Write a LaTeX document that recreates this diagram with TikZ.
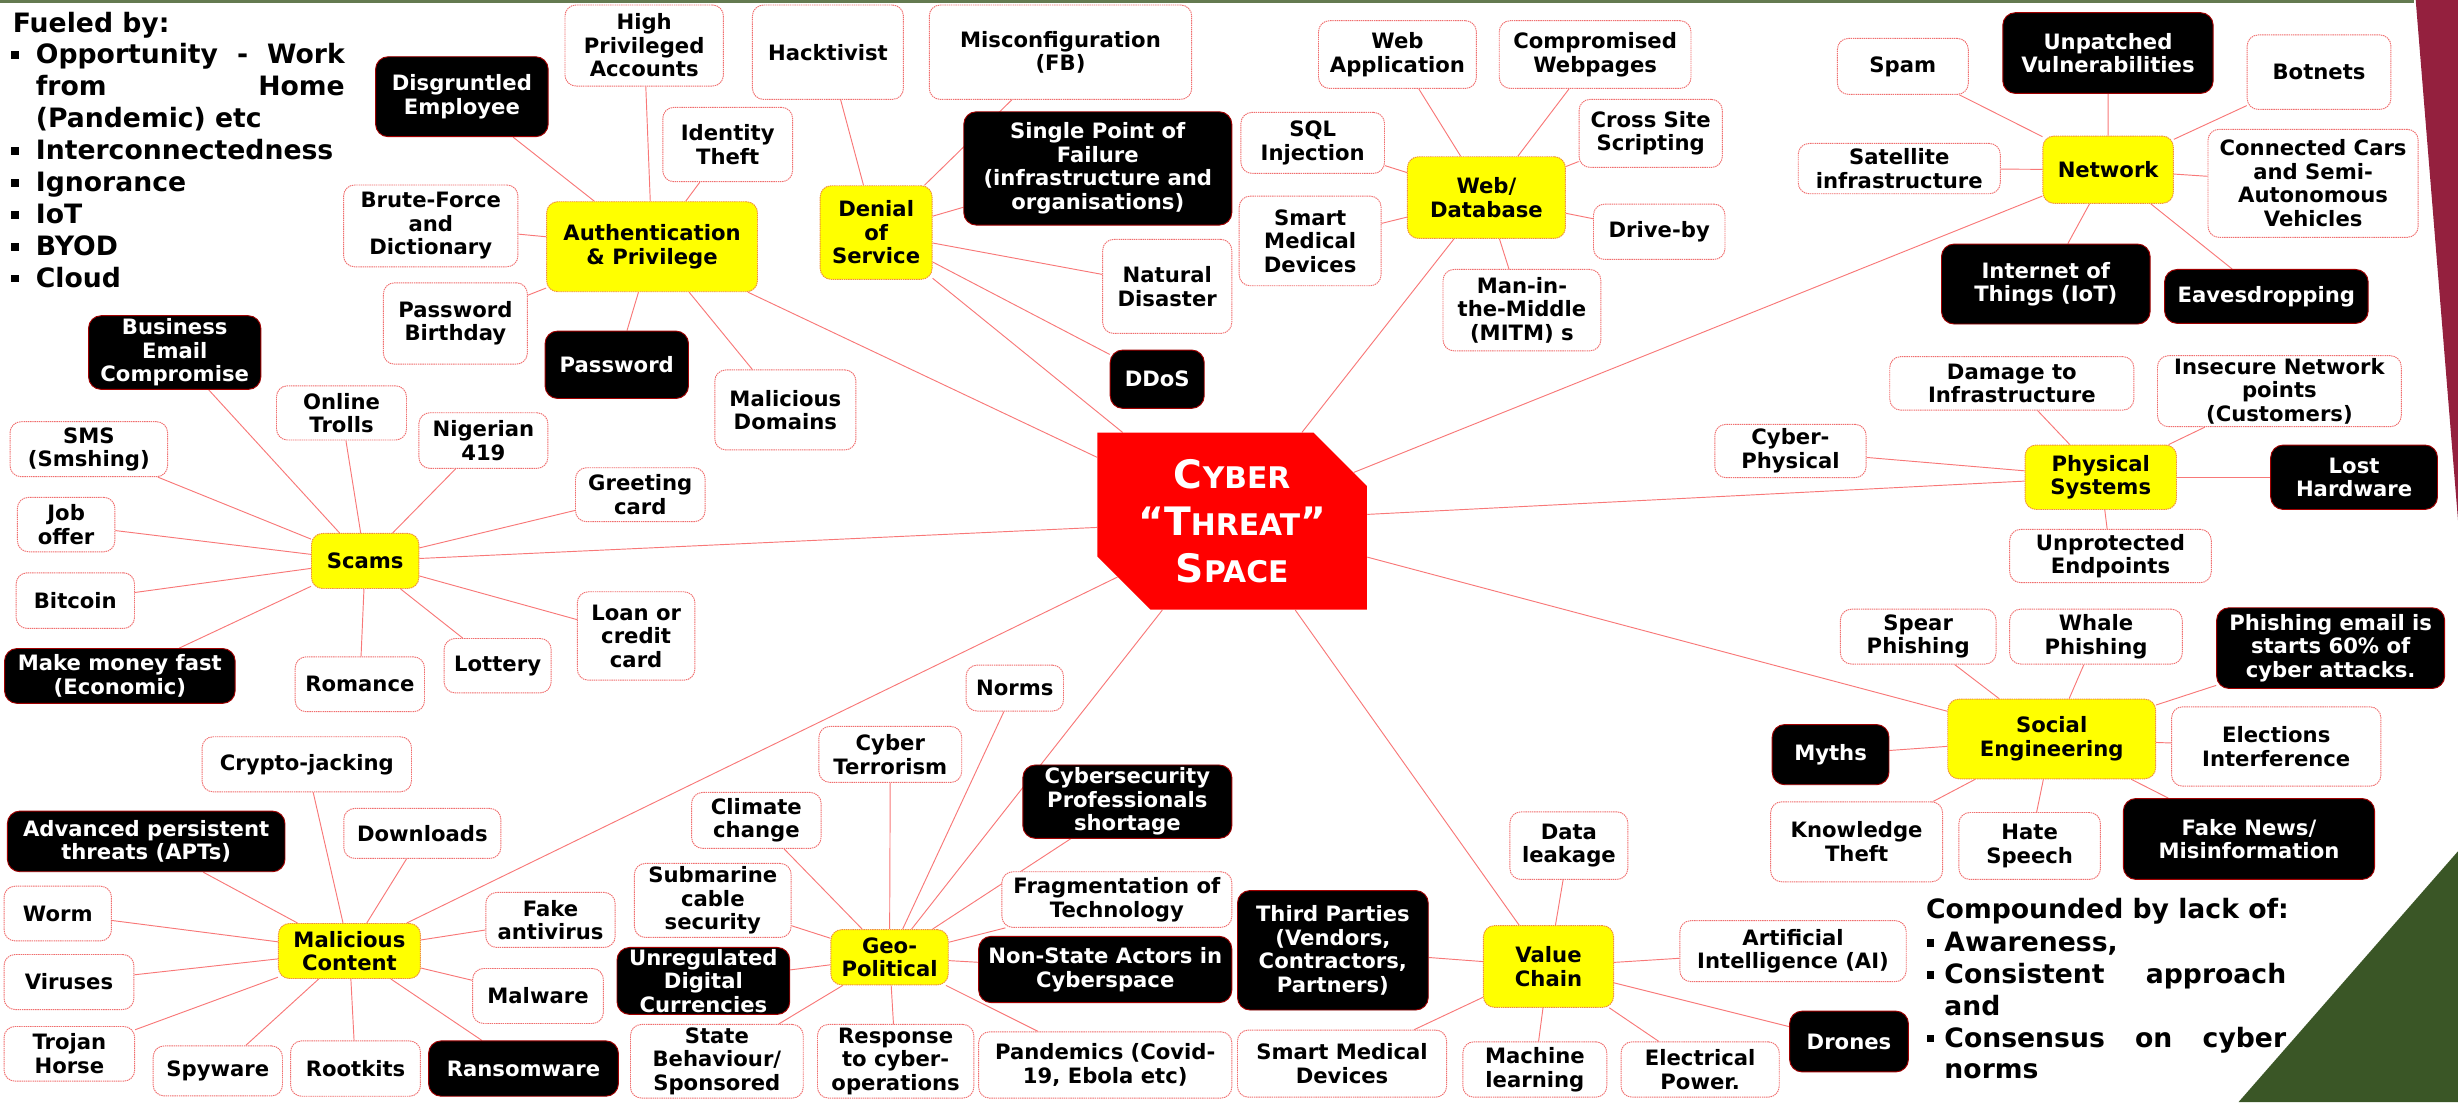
\documentclass[tikz,border=0pt]{standalone}
\usepackage{fontspec}
\setmainfont{DejaVu Sans}
\usetikzlibrary{shapes.misc,backgrounds}
\definecolor{lnred}{RGB}{248,120,120}
\definecolor{bdred}{RGB}{240,110,110}
\definecolor{ylw}{RGB}{255,255,0}
\definecolor{ybd}{RGB}{240,140,60}
\definecolor{kbd}{RGB}{160,0,0}
\definecolor{maroonbg}{RGB}{148,32,62}
\definecolor{dgreen}{RGB}{58,86,38}
\definecolor{tgreen}{RGB}{100,122,80}
\definecolor{cred}{RGB}{255,0,0}
\newcommand\bx[7]{\node[#2, minimum width={#5-#3}, minimum height={#6-#4}] (#1) at ({(#3+#5)/2},{(#4+#6)/2}) {#7};}
\newcommand\bul[1]{\makebox[#1][l]{\raisebox{3.2pt}{\rule{4.8pt}{4.6pt}}}}
\newcommand\scA[2]{{\fontsize{25}{30}\selectfont #1}{\fontsize{19}{30}\selectfont #2}}
\tikzset{
 basebox/.style={align=center, inner sep=1pt, font=\fontsize{13.5}{15}\selectfont\bfseries},
 wbox/.style={basebox, fill=white, draw=bdred, line width=0.6pt, dash pattern=on 0.9pt off 0.5pt, rounded corners=7pt},
 kbox/.style={basebox, fill=black, draw=kbd, line width=0.6pt, rounded corners=8pt, text=white},
 hub/.style={basebox, fill=ylw, draw=ybd, line width=0.6pt, dash pattern=on 0.9pt off 0.5pt, rounded corners=7pt},
 link/.style={draw=lnred, line width=0.6pt},
 sidetext/.style={anchor=base west, inner sep=0, font=\fontsize{17}{20.4}\selectfont\bfseries},
}
\begin{document}
\begin{tikzpicture}[x=1pt,y=-1pt]
\useasboundingbox (0,0) rectangle (1568,703);
% centre
\node[chamfered rectangle, chamfered rectangle corners={north east,south west},
  chamfered rectangle xsep=17pt, chamfered rectangle ysep=17pt, fill=cred,
  minimum width=172pt, minimum height=105pt, inner sep=0, text=white, align=center,
  font=\fontsize{25}{30}\selectfont\bfseries] (ctr) at (786,332.5)
  {\scA{C}{YBER}\\{\fontsize{25}{30}\selectfont “T}{\fontsize{19}{30}\selectfont HREAT}{\fontsize{25}{30}\selectfont ”}\\\scA{S}{PACE}};
% side texts
\node[sidetext] (f1) at (8,20.5) {Fueled by:};
\node[sidetext] (f2) at (7,40.6) {\bul{15.7pt}\makebox[197pt][s]{Opportunity - Work}};
\node[sidetext] (f3) at (22.7,61) {\makebox[197pt][s]{from Home}};
\node[sidetext] (f4) at (22.7,81.4) {(Pandemic) etc};
\node[sidetext] (f5) at (7,101.8) {\bul{15.7pt}Interconnectedness};
\node[sidetext] (f6) at (7,122.2) {\bul{15.7pt}Ignorance};
\node[sidetext] (f7) at (7,142.6) {\bul{15.7pt}IoT};
\node[sidetext] (f8) at (7,163) {\bul{15.7pt}BYOD};
\node[sidetext] (f9) at (7,183.4) {\bul{15.7pt}Cloud};
\node[sidetext] (c1) at (1228.5,586) {Compounded by lack of:};
\node[sidetext] (c2) at (1229,607) {\bul{11.2pt}Awareness,};
\node[sidetext] (c3) at (1229,627.5) {\bul{11.2pt}\makebox[218pt][s]{Consistent approach}};
\node[sidetext] (c4) at (1240.2,647.5) {and};
\node[sidetext] (c5) at (1229,668) {\bul{11.2pt}\makebox[218pt][s]{Consensus on cyber}};
\node[sidetext] (c6) at (1240.2,688) {norms};
% Authentication
\bx{dis}{kbox}{239.6}{36.2}{349.7}{87.2}{Disgruntled\\Employee}
\bx{hpa}{wbox}{360.4}{3.2}{461.5}{54.9}{High\\Privileged\\Accounts}
\bx{idt}{wbox}{422.8}{68.5}{505.6}{115.9}{Identity\\Theft}
\bx{bfd}{wbox}{219.2}{118}{330.4}{170.2}{Brute-Force\\and\\Dictionary}
\bx{auth}{hub}{348.7}{128.7}{483.2}{186.1}{Authentication\\\& Privilege}
\bx{pwb}{wbox}{244.6}{180.4}{336.4}{232.3}{Password\\Birthday}
\bx{pwd}{kbox}{347.7}{211.2}{439.2}{254.2}{Password}
\bx{mdo}{wbox}{456}{236}{546}{287}{Malicious\\Domains}
% Denial of service
\bx{hack}{wbox}{480}{3.2}{576.3}{63.4}{Hacktivist}
\bx{misc}{wbox}{592.8}{3.2}{760.2}{63.4}{Misconfiguration\\(FB)}
\bx{dos}{hub}{523.2}{118.5}{594.6}{178.2}{Denial\\of\\Service}
\bx{spf}{kbox}{614.8}{71.3}{785.8}{143.6}{Single Point of\\Failure\\(infrastructure and\\organisations)}
\bx{nat}{wbox}{703.4}{152.7}{785.8}{212.7}{Natural\\Disaster}
\bx{ddos}{kbox}{708.2}{223.3}{768.2}{260.5}{DDoS}
% Web / database
\bx{webapp}{wbox}{841.1}{13.2}{941.8}{56.4}{Web\\Application}
\bx{comp}{wbox}{956.4}{13.2}{1078.7}{56.4}{Compromised\\Webpages}
\bx{sql}{wbox}{791.6}{71.7}{883.2}{110.6}{SQL\\Injection}
\bx{smd}{wbox}{790.5}{125.1}{881}{182.3}{Smart\\Medical\\Devices}
\bx{webdb}{hub}{897.8}{100}{998.6}{152.1}{Web/\\Database}
\bx{xss}{wbox}{1007.3}{63.4}{1098.7}{106.8}{Cross Site\\Scripting}
\bx{drive}{wbox}{1016.5}{130.2}{1100.4}{165.5}{Drive-by}
\bx{mitm}{wbox}{920.5}{171.9}{1021.2}{223.8}{Man-in-\\the-Middle\\(MITM) s}
% Network
\bx{spam}{wbox}{1172.1}{24.5}{1255.6}{60.2}{Spam}
\bx{unp}{kbox}{1277.6}{8.1}{1411.8}{59.6}{Unpatched\\Vulnerabilities}
\bx{bot}{wbox}{1433.5}{22.3}{1525.2}{69.8}{Botnets}
\bx{sat}{wbox}{1147.1}{91.5}{1276}{123.6}{Satellite\\infrastructure}
\bx{net}{hub}{1303.2}{86.8}{1386.4}{129.7}{Network}
\bx{cars}{wbox}{1408.5}{82.5}{1542.6}{151.4}{Connected Cars\\and Semi-\\Autonomous\\Vehicles}
\bx{iot}{kbox}{1238.5}{155.7}{1371.6}{206.7}{Internet of\\Things (IoT)}
\bx{eav}{kbox}{1380.8}{171.9}{1510.7}{206.3}{Eavesdropping}
% Physical systems
\bx{dmg}{wbox}{1205.5}{227.5}{1361.2}{261.6}{Damage to\\Infrastructure}
\bx{ins}{wbox}{1376.3}{226.9}{1531.8}{272.2}{Insecure Network\\points\\(Customers)}
\bx{cph}{wbox}{1093.9}{270.7}{1190.4}{304.7}{Cyber-\\Physical}
\bx{phys}{hub}{1291.8}{283.9}{1388.4}{325}{Physical\\Systems}
\bx{lost}{kbox}{1448.5}{283.9}{1554.9}{325}{Lost\\Hardware}
\bx{unpr}{wbox}{1282}{337.7}{1410.6}{371.7}{Unprotected\\Endpoints}
% Social engineering
\bx{spear}{wbox}{1174}{388.6}{1273.3}{423.6}{Spear\\Phishing}
\bx{whale}{wbox}{1282}{388.6}{1392.1}{423.6}{Whale\\Phishing}
\bx{phem}{kbox}{1414}{387.7}{1559.5}{439.2}{Phishing email is\\starts 60\% of\\cyber attacks.}
\bx{soc}{hub}{1242.5}{446}{1375.1}{496.8}{Social\\Engineering}
\bx{myth}{kbox}{1130.5}{462.2}{1205}{500.6}{Myths}
\bx{elec}{wbox}{1385.3}{450.9}{1518.8}{501.5}{Elections\\Interference}
\bx{know}{wbox}{1129.5}{511.5}{1239.2}{562.5}{Knowledge\\Theft}
\bx{hate}{wbox}{1249.6}{518.3}{1339.9}{561}{Hate\\Speech}
\bx{fake}{kbox}{1354.5}{509.4}{1514.8}{561}{Fake News/\\Misinformation}
% Value chain
\bx{leak}{wbox}{963.2}{517.9}{1038.4}{561}{Data\\leakage}
\bx{third}{kbox}{789.4}{568.1}{911.1}{644.3}{Third Parties\\(Vendors,\\Contractors,\\Partners)}
\bx{vc}{hub}{946.3}{590.5}{1029.3}{642.6}{Value\\Chain}
\bx{ai}{wbox}{1071.6}{587.3}{1216}{626.2}{Artificial\\Intelligence (AI)}
\bx{drones}{kbox}{1141.6}{645}{1217.4}{683.8}{Drones}
\bx{smdb}{wbox}{789.4}{657.1}{922.8}{699.9}{Smart Medical\\Devices}
\bx{ml}{wbox}{933.2}{664.6}{1025}{699.9}{Machine\\learning}
\bx{elp}{wbox}{1034.1}{664.6}{1135}{699.9}{Electrical\\Power.}
% Geo-political
\bx{norms}{wbox}{616.3}{424.3}{678.4}{453.6}{Norms}
\bx{cter}{wbox}{522.4}{463.4}{613.5}{499.1}{Cyber\\Terrorism}
\bx{csp}{kbox}{652.5}{488}{785.8}{534.8}{Cybersecurity\\Professionals\\shortage}
\bx{clim}{wbox}{441.2}{505.5}{523.8}{541.2}{Climate\\change}
\bx{sub}{wbox}{404.7}{550.8}{504.7}{598}{Submarine\\cable\\security}
\bx{frag}{wbox}{639.1}{556.1}{785.8}{591.6}{Fragmentation of\\Technology}
\bx{geo}{hub}{530}{593}{604.9}{628.3}{Geo-\\Political}
\bx{unreg}{kbox}{393.6}{604.4}{503.8}{647.1}{Unregulated\\Digital\\Currencies}
\bx{nsa}{kbox}{624.3}{597.3}{785.8}{639.6}{Non-State Actors in\\Cyberspace}
\bx{state}{wbox}{402.2}{653.5}{512.4}{700.5}{State\\Behaviour/\\Sponsored}
\bx{resp}{wbox}{521.5}{653.5}{621.2}{700.5}{Response\\to cyber-\\operations}
\bx{pand}{wbox}{624.3}{658.2}{785.8}{700.5}{Pandemics (Covid-\\19, Ebola etc)}
% Scams
\bx{bec}{kbox}{56.5}{201.4}{166.4}{248.4}{Business\\Email\\Compromise}
\bx{trolls}{wbox}{176.4}{246.1}{259.3}{280.7}{Online\\Trolls}
\bx{sms}{wbox}{6.4}{269}{106.9}{304.1}{SMS\\(Smshing)}
\bx{nig}{wbox}{267.2}{263.3}{349.5}{298.8}{Nigerian\\419}
\bx{greet}{wbox}{367.1}{298.4}{449.8}{332.8}{Greeting\\card}
\bx{job}{wbox}{11.1}{317.3}{73.3}{352}{Job\\offer}
\bx{scams}{hub}{198.7}{340.3}{267.2}{375.4}{Scams}
\bx{btc}{wbox}{10.3}{365.4}{85.8}{400.9}{Bitcoin}
\bx{mmf}{kbox}{2.9}{413.7}{150}{448.7}{Make money fast\\(Economic)}
\bx{rom}{wbox}{188.3}{419}{270.8}{454}{Romance}
\bx{lot}{wbox}{283.3}{407.3}{351.6}{442}{Lottery}
\bx{loan}{wbox}{368.3}{377.5}{443.3}{433.9}{Loan or\\credit\\card}
% Malicious content
\bx{crypto}{wbox}{128.9}{470}{262.5}{505.1}{Crypto-jacking}
\bx{apt}{kbox}{4.7}{517.4}{181.8}{556.1}{Advanced persistent\\threats (APTs)}
\bx{down}{wbox}{219.3}{515.7}{319.5}{547.6}{Downloads}
\bx{worm}{wbox}{2.6}{565.3}{71.1}{600.2}{Worm}
\bx{fav}{wbox}{309.9}{569.3}{392.4}{604.4}{Fake\\antivirus}
\bx{mal}{hub}{177.6}{589.1}{268.2}{624.2}{Malicious\\Content}
\bx{vir}{wbox}{2.6}{608.9}{85.4}{644}{Viruses}
\bx{malw}{wbox}{301.5}{617.8}{384.9}{652.9}{Malware}
\bx{troj}{wbox}{2.6}{654.8}{85.9}{689.7}{Trojan\\Horse}
\bx{spy}{wbox}{97.7}{667.2}{180.2}{699.1}{Spyware}
\bx{root}{wbox}{185.4}{664}{268.2}{699.3}{Rootkits}
\bx{ransom}{kbox}{273.4}{664}{394.5}{699.3}{Ransomware}
\begin{pgfonlayer}{background}
\fill[tgreen] (0,0) rectangle (1540,1.8);
\fill[maroonbg] (1541,0) -- (1568,0) -- (1568,332) -- cycle;
\fill[dgreen] (1568,543) -- (1568,703) -- (1428,703) -- cycle;
\foreach \t in {dis,hpa,idt,bfd,pwb,pwd,mdo,ctr} \draw[link] (auth) -- (\t);
\foreach \t in {hack,misc,spf,nat,ddos,ctr} \draw[link] (dos) -- (\t);
\foreach \t in {webapp,comp,sql,smd,xss,drive,mitm,ctr} \draw[link] (webdb) -- (\t);
\foreach \t in {spam,unp,bot,sat,cars,iot,eav,ctr} \draw[link] (net) -- (\t);
\foreach \t in {dmg,ins,cph,lost,unpr,ctr} \draw[link] (phys) -- (\t);
\foreach \t in {spear,whale,phem,myth,elec,know,hate,fake,ctr} \draw[link] (soc) -- (\t);
\foreach \t in {leak,third,ai,drones,smdb,ml,elp,ctr} \draw[link] (vc) -- (\t);
\foreach \t in {norms,cter,csp,clim,sub,frag,unreg,nsa,state,resp,pand,ctr} \draw[link] (geo) -- (\t);
\foreach \t in {bec,trolls,sms,nig,greet,job,btc,mmf,rom,lot,loan,ctr} \draw[link] (scams) -- (\t);
\foreach \t in {crypto,apt,down,worm,fav,vir,malw,troj,spy,root,ransom,ctr} \draw[link] (mal) -- (\t);
\end{pgfonlayer}
\end{tikzpicture}
\end{document}
